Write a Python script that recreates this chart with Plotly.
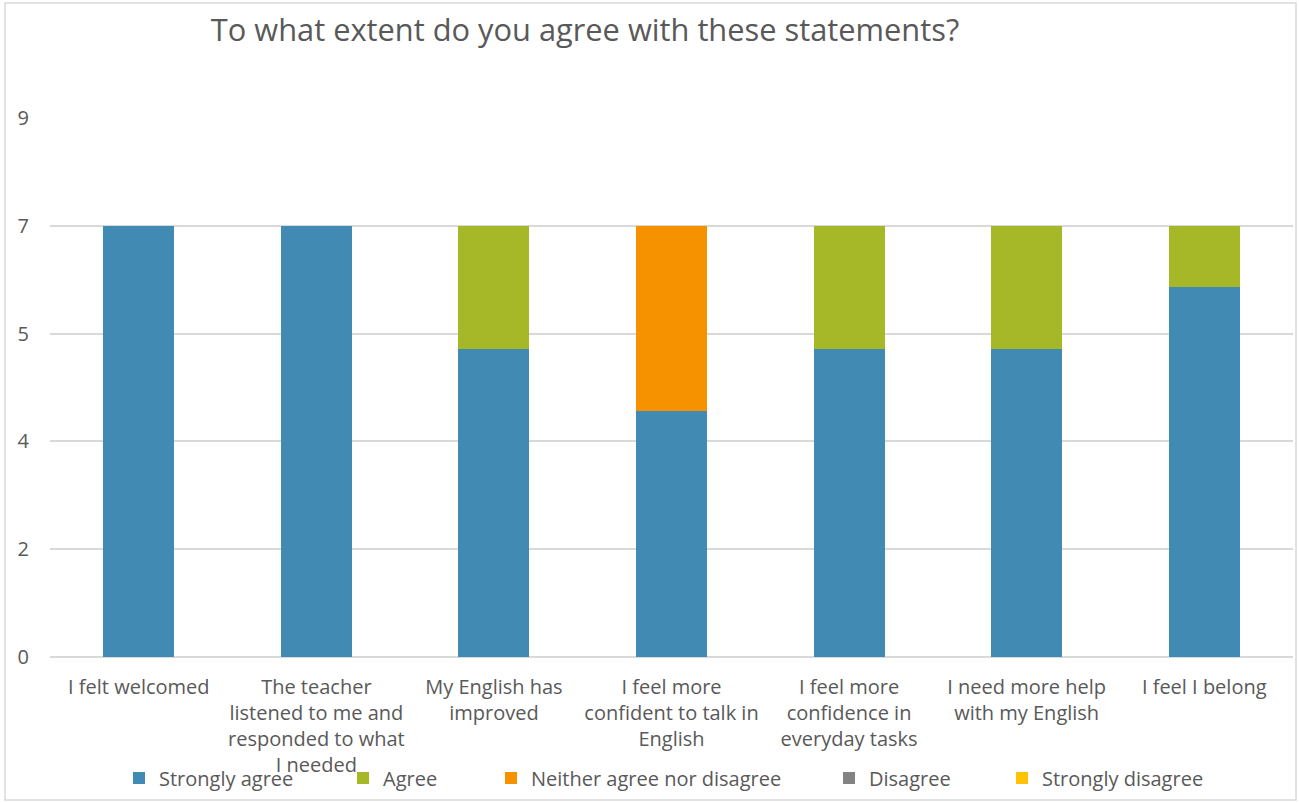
import plotly.graph_objects as go

categories = ["I felt welcomed",
              "The teacher<br>listened to me and<br>responded to what<br>I needed",
              "My English has<br>improved",
              "I feel more<br>confident to talk in<br>English",
              "I feel more<br>confidence in<br>everyday tasks",
              "I need more help<br>with my English",
              "I feel I belong"]
strongly_agree = [7, 7, 5, 4, 5, 5, 6]
agree = [0, 0, 2, 0, 2, 2, 1]
neither = [0, 0, 0, 3, 0, 0, 0]
disagree = [0, 0, 0, 0, 0, 0, 0]
strongly_disagree = [0, 0, 0, 0, 0, 0, 0]

tick_vals = [0, 1.75, 3.5, 5.25, 7, 8.75]
tick_text = ["0", "2", "4", "5", "7", "9"]

series = [
    ("Strongly agree", strongly_agree, "#418AB3", "legend"),
    ("Agree", agree, "#A6B727", "legend2"),
    ("Neither agree nor disagree", neither, "#F69200", "legend3"),
    ("Disagree", disagree, "#838383", "legend4"),
    ("Strongly disagree", strongly_disagree, "#FEC306", "legend5"),
]

FONT = "Open Sans"
TXT = "#595959"
FS = 20

fig = go.Figure()
for name, vals, col, lg in series:
    fig.add_trace(go.Bar(x=categories, y=vals, name=name, marker_color=col,
                         marker_line_width=0, legend=lg))

W, H = 1299, 803
L, R, T, B = 50, 6, 118, 146
pw = W - L - R
ph = H - T - B

def px_x(p):
    return (p - L) / pw

def px_y(p):
    return (H - B - p) / ph

legend_text_starts = [159, 383, 531, 869, 1042]
legends = {}
for i, s in enumerate(legend_text_starts):
    key = "legend" if i == 0 else f"legend{i+1}"
    legends[key] = dict(orientation="h", x=px_x(s - 40), xanchor="left",
                        y=px_y(778), yanchor="middle", bgcolor="rgba(0,0,0,0)",
                        font=dict(family=FONT, size=FS, color=TXT),
                        itemclick=False)

fig.update_layout(
    width=W, height=H,
    margin=dict(l=L, r=R, t=T, b=B, autoexpand=False),
    paper_bgcolor="white", plot_bgcolor="white",
    barmode="stack", bargap=0.6,
    title=dict(text="To what extent do you agree with these statements?",
               x=585 / W, xanchor="center", y=1 - 30 / H, yanchor="middle",
               font=dict(family=FONT, size=30.8, color=TXT)),
    font=dict(family=FONT, size=FS, color=TXT),
    xaxis=dict(showgrid=False, ticks="", tickfont=dict(family=FONT, size=FS, color=TXT),
               showline=False, tickangle=0, ticklabelstandoff=16),
    yaxis=dict(range=[0, 8.75], tickvals=tick_vals, ticktext=tick_text,
               showgrid=True, gridcolor="#D9D9D9", gridwidth=1.5,
               zeroline=True, zerolinecolor="#D9D9D9", zerolinewidth=1.5,
               tickfont=dict(family=FONT, size=FS, color=TXT), ticks="",
               ticklabelstandoff=20),
    showlegend=True,
    **legends,
)

fig.add_shape(type="rect", xref="paper", yref="paper",
              x0=px_x(5), x1=px_x(1296), y0=px_y(800), y1=px_y(3),
              line=dict(color="#D9D9D9", width=1.5), fillcolor="rgba(0,0,0,0)",
              layer="below")

fig.write_html("out.html")
